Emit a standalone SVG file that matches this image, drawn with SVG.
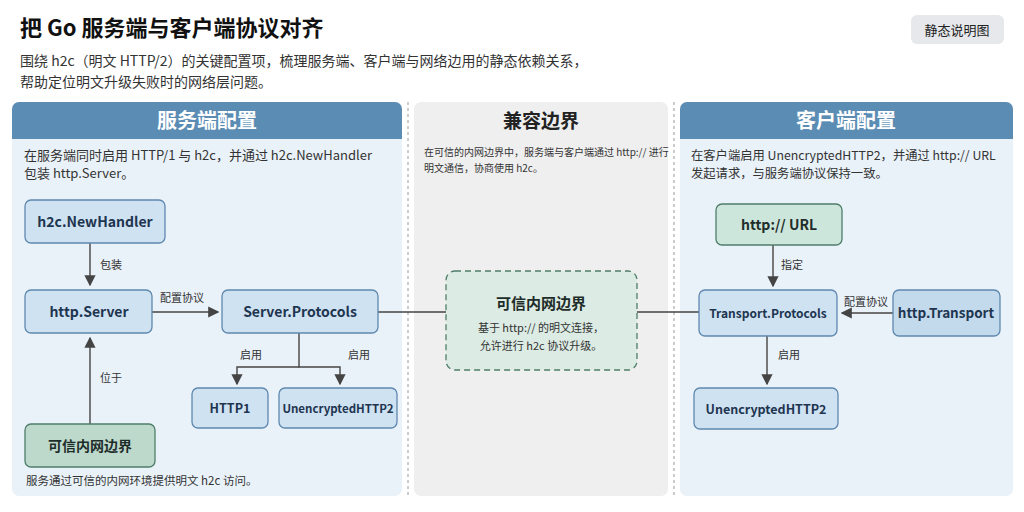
<svg xmlns="http://www.w3.org/2000/svg" width="1024" height="512" viewBox="0 0 1024 512">
<style>
text{font-family:"Noto Sans CJK SC","Noto Sans",sans-serif;fill:#1f2d3d}
.n{fill:#cfe2f2;stroke:#5f88ae;stroke-width:1.3}
.g{fill:#bcd9cc;stroke:#4f7d69;stroke-width:1.3}
.nt{font-size:14px;font-weight:bold;text-anchor:middle;fill:#1e3550}
.lb{font-size:11px;fill:#333}
.ds{font-size:13px;fill:#333}
.c{stroke:#444;stroke-width:1.4;fill:none}
.hd{font-size:20px;font-weight:bold;text-anchor:middle;fill:#fff}
</style>
<defs><marker id="a" markerWidth="8" markerHeight="8" refX="7" refY="4" orient="auto"><path d="M0,0L8,4L0,8z" fill="#444"/></marker></defs>
<rect width="1024" height="512" fill="#fff"/>
<text x="20" y="36" style="font-size:22px;font-weight:bold;fill:#111">把 Go 服务端与客户端协议对齐</text>
<rect x="911" y="15" width="93" height="29" rx="6" fill="#e6e8eb"/>
<text x="957" y="35" style="font-size:13px;text-anchor:middle;fill:#222">静态说明图</text>
<text x="20" y="66" style="font-size:14px;fill:#333">围绕 h2c（明文 HTTP/2）的关键配置项，梳理服务端、客户端与网络边用的静态依赖关系，</text>
<text x="20" y="87" style="font-size:14px;fill:#333">帮助定位明文升级失败时的网络层问题。</text>
<g id="panels">
<rect x="12" y="102" width="390" height="394" rx="7" fill="#eaf2f9"/>
<path d="M12,139V109a7,7 0 0 1 7-7H395a7,7 0 0 1 7,7V139z" fill="#5b8cb3"/>
<text x="207" y="128" class="hd">服务端配置</text>
<rect x="414" y="102" width="254" height="394" rx="7" fill="#efefef"/>
<text x="541" y="128" style="font-size:19px;font-weight:bold;text-anchor:middle;fill:#222">兼容边界</text>
<rect x="680" y="102" width="333" height="394" rx="7" fill="#eaf2f9"/>
<path d="M680,139V109a7,7 0 0 1 7-7H1006a7,7 0 0 1 7,7V139z" fill="#5b8cb3"/>
<text x="846" y="128" class="hd">客户端配置</text>
<line x1="408" y1="102" x2="408" y2="496" stroke="#999" stroke-dasharray="3,3"/>
<line x1="674" y1="102" x2="674" y2="496" stroke="#999" stroke-dasharray="3,3"/>
<text x="24" y="160" class="ds">在服务端同时启用 HTTP/1 与 h2c，并通过 h2c.NewHandler</text>
<text x="24" y="178" class="ds">包装 http.Server。</text>
<text x="424" y="156" style="font-size:10px;fill:#333">在可信的内网边界中，服务端与客户端通过 http:// 进行</text>
<text x="424" y="172" style="font-size:10px;fill:#333">明文通信，协商使用 h2c。</text>
<text x="691" y="160" class="ds" style="font-size:12.3px">在客户端启用 UnencryptedHTTP2，并通过 http:// URL</text>
<text x="691" y="178" class="ds" style="font-size:12.3px">发起请求，与服务端协议保持一致。</text>
<text x="26" y="485" style="font-size:11.5px;fill:#333">服务通过可信的内网环境提供明文 h2c 访问。</text>
</g>
<g id="connectors">
<path class="c" d="M90,243V285" marker-end="url(#a)"/>
<text x="100" y="269" class="lb">包装</text>
<path class="c" d="M152,312H218" marker-end="url(#a)"/>
<text x="160" y="302" class="lb">配置协议</text>
<path class="c" d="M90,424V338" marker-end="url(#a)"/>
<text x="100" y="382" class="lb">位于</text>
<path class="c" d="M299,333V367H340V384" marker-end="url(#a)"/>
<path class="c" d="M299,367H237V384" marker-end="url(#a)"/>
<text x="240" y="359" class="lb">启用</text>
<text x="348" y="359" class="lb">启用</text>
<path class="c" d="M378,312H446M637,312H699"/>
<path class="c" d="M773,245V286" marker-end="url(#a)"/>
<text x="781" y="269" class="lb">指定</text>
<path class="c" d="M893,313H842" marker-end="url(#a)"/>
<text x="844" y="306" class="lb">配置协议</text>
<path class="c" d="M767,336V384" marker-end="url(#a)"/>
<text x="778" y="359" class="lb">启用</text>
</g>
<g id="n-newhandler"><rect class="n" x="25" y="200" width="140" height="43" rx="6"/><text class="nt" x="95" y="227">h2c.NewHandler</text></g>
<g id="n-server"><rect class="n" x="25" y="290" width="127" height="43" rx="6"/><text class="nt" x="89" y="317">http.Server</text></g>
<g id="n-sprot"><rect class="n" x="222" y="290" width="156" height="43" rx="6"/><text class="nt" x="300" y="317">Server.Protocols</text></g>
<g id="n-http1"><rect class="n" x="192" y="388" width="76" height="40" rx="6"/><text class="nt" x="230" y="413" style="font-size:12.5px">HTTP1</text></g>
<g id="n-uh2l"><rect class="n" x="279" y="388" width="118" height="40" rx="6"/><text class="nt" x="338" y="413" style="font-size:11.5px">UnencryptedHTTP2</text></g>
<g id="n-trustl"><rect class="g" x="25" y="424" width="130" height="43" rx="6"/><text class="nt" x="90" y="451" style="fill:#1f2d2a">可信内网边界</text></g>
<g id="n-trustm"><rect x="446" y="271" width="191" height="99" rx="9" fill="#dcebe3" stroke="#4f7d69" stroke-width="1.3" stroke-dasharray="6,4"/><text class="nt" x="541" y="309" style="fill:#1f2d2a;font-size:15px">可信内网边界</text><text x="541" y="332" style="font-size:11px;text-anchor:middle;fill:#333">基于 http:// 的明文连接，</text><text x="541" y="350" style="font-size:11px;text-anchor:middle;fill:#333">允许进行 h2c 协议升级。</text></g>
<g id="n-url"><rect class="g" x="716" y="204" width="126" height="41" rx="6" style="fill:#cde6dc"/><text class="nt" x="779" y="230" style="fill:#1f2d2a">http:// URL</text></g>
<g id="n-tprot"><rect class="n" x="699" y="290" width="138" height="46" rx="6"/><text class="nt" x="768" y="318" style="font-size:12px">Transport.Protocols</text></g>
<g id="n-transport"><rect class="n" x="893" y="290" width="107" height="46" rx="6" style="fill:#c3d9ec"/><text class="nt" x="946" y="318" style="font-size:13.5px">http.Transport</text></g>
<g id="n-uh2r"><rect class="n" x="694" y="388" width="144" height="41" rx="6"/><text class="nt" x="766" y="414" style="font-size:12.5px">UnencryptedHTTP2</text></g>
</svg>
